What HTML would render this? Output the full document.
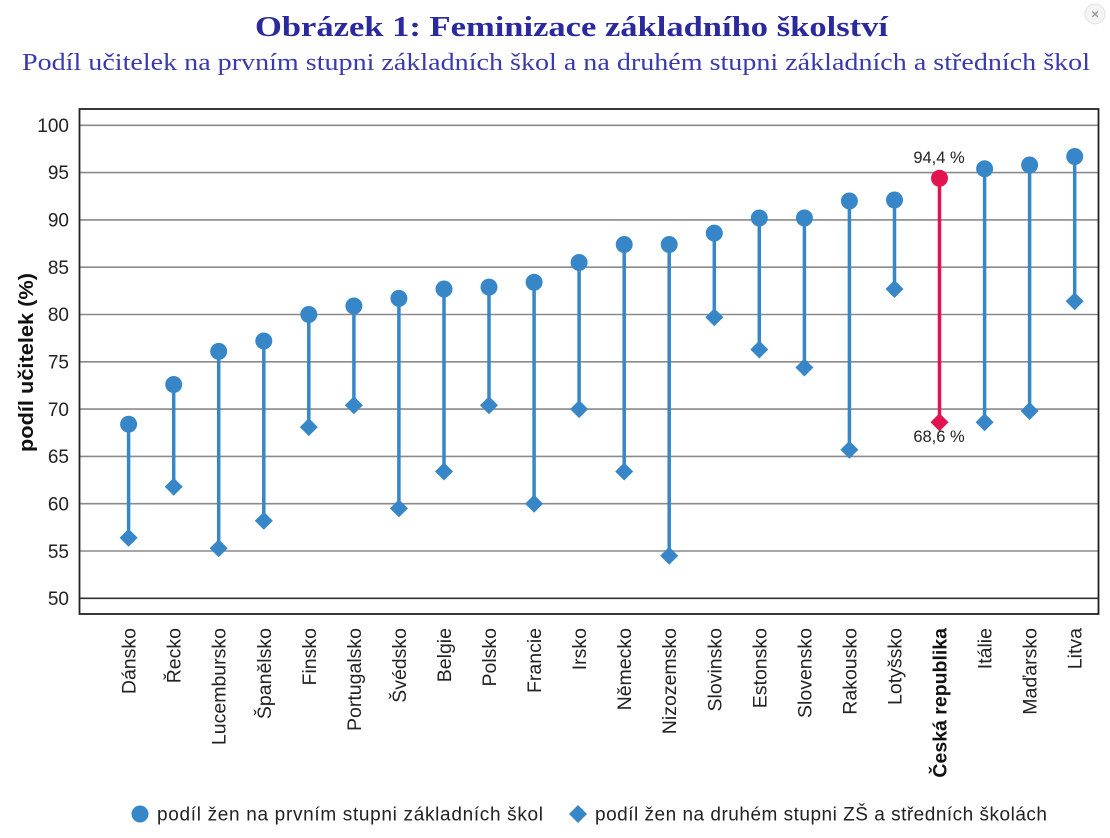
<!DOCTYPE html>
<html><head><meta charset="utf-8"><style>
html,body{margin:0;padding:0;background:#fff;}
svg{display:block;}
</style></head><body>
<svg width="1110" height="838" viewBox="0 0 1110 838" xmlns="http://www.w3.org/2000/svg">
<rect width="1110" height="838" fill="#fff"/>
<!-- close button -->
<circle cx="1095" cy="14" r="10" fill="#f4f4f4" stroke="#e2e2e2" stroke-width="1"/>
<text x="1095" y="18.5" font-family="Liberation Sans, sans-serif" font-size="13" font-weight="bold" fill="#9a9a9a" text-anchor="middle">×</text>
<!-- titles -->
<text x="255" y="36" textLength="633" lengthAdjust="spacingAndGlyphs" font-family="Liberation Serif, serif" font-weight="bold" font-size="29" fill="#2a2a9c">Obrázek 1: Feminizace základního školství</text>
<text x="22" y="70" textLength="1068" lengthAdjust="spacingAndGlyphs" font-family="Liberation Serif, serif" font-size="24" fill="#3a3aaa">Podíl učitelek na prvním stupni základních škol a na druhém stupni základních a středních škol</text>
<!-- gridlines -->
<g stroke="#8a8a8a" stroke-width="1.6">
<line x1="80" x2="1098" y1="125.3" y2="125.3"/>
<line x1="80" x2="1098" y1="172.6" y2="172.6"/>
<line x1="80" x2="1098" y1="219.9" y2="219.9"/>
<line x1="80" x2="1098" y1="267.2" y2="267.2"/>
<line x1="80" x2="1098" y1="314.5" y2="314.5"/>
<line x1="80" x2="1098" y1="361.8" y2="361.8"/>
<line x1="80" x2="1098" y1="409.1" y2="409.1"/>
<line x1="80" x2="1098" y1="456.4" y2="456.4"/>
<line x1="80" x2="1098" y1="503.7" y2="503.7"/>
<line x1="80" x2="1098" y1="551.0" y2="551.0"/>
</g>
<line x1="80" x2="1098" y1="598.3" y2="598.3" stroke="#333" stroke-width="1.6"/>
<!-- frame -->
<rect x="79.5" y="109" width="1019" height="505" fill="none" stroke="#222" stroke-width="1.8"/>
<!-- y tick labels -->
<g font-family="Liberation Sans, sans-serif" font-size="19" fill="#222" text-anchor="end">
<text x="69" y="132">100</text>
<text x="69" y="179">95</text>
<text x="69" y="226.5">90</text>
<text x="69" y="274">85</text>
<text x="69" y="321">80</text>
<text x="69" y="368.5">75</text>
<text x="69" y="416">70</text>
<text x="69" y="463">65</text>
<text x="69" y="510.5">60</text>
<text x="69" y="558">55</text>
<text x="69" y="605">50</text>
</g>
<text transform="translate(33,452) rotate(-90)" textLength="179" lengthAdjust="spacingAndGlyphs" font-family="Liberation Sans, sans-serif" font-size="20" font-weight="bold" fill="#111">podíl učitelek (%)</text>
<!-- lines -->
<g stroke="#3787c8" stroke-width="3.5">
<line x1="128.6" x2="128.6" y1="424.2" y2="537.8"/>
<line x1="173.7" x2="173.7" y1="384.5" y2="486.7"/>
<line x1="218.7" x2="218.7" y1="351.4" y2="548.2"/>
<line x1="263.8" x2="263.8" y1="341.0" y2="520.7"/>
<line x1="308.8" x2="308.8" y1="314.5" y2="427.1"/>
<line x1="353.9" x2="353.9" y1="306.0" y2="405.3"/>
<line x1="398.9" x2="398.9" y1="298.4" y2="508.4"/>
<line x1="444.0" x2="444.0" y1="289.0" y2="471.5"/>
<line x1="489.0" x2="489.0" y1="287.1" y2="405.3"/>
<line x1="534.1" x2="534.1" y1="282.3" y2="503.7"/>
<line x1="579.1" x2="579.1" y1="262.5" y2="409.1"/>
<line x1="624.2" x2="624.2" y1="244.5" y2="471.5"/>
<line x1="669.2" x2="669.2" y1="244.5" y2="555.7"/>
<line x1="714.3" x2="714.3" y1="233.1" y2="317.3"/>
<line x1="759.3" x2="759.3" y1="218.0" y2="349.5"/>
<line x1="804.4" x2="804.4" y1="218.0" y2="367.5"/>
<line x1="849.4" x2="849.4" y1="201.0" y2="449.8"/>
<line x1="894.5" x2="894.5" y1="200.0" y2="289.0"/>
<line x1="984.6" x2="984.6" y1="168.8" y2="422.3"/>
<line x1="1029.6" x2="1029.6" y1="165.0" y2="411.0"/>
<line x1="1074.7" x2="1074.7" y1="156.5" y2="301.3"/>
</g>
<line x1="939.5" x2="939.5" y1="178.3" y2="422.3" stroke="#e31351" stroke-width="3.5"/>
<!-- circles -->
<g fill="#3787c8">
<circle cx="128.6" cy="424.2" r="8.5"/>
<circle cx="173.7" cy="384.5" r="8.5"/>
<circle cx="218.7" cy="351.4" r="8.5"/>
<circle cx="263.8" cy="341.0" r="8.5"/>
<circle cx="308.8" cy="314.5" r="8.5"/>
<circle cx="353.9" cy="306.0" r="8.5"/>
<circle cx="398.9" cy="298.4" r="8.5"/>
<circle cx="444.0" cy="289.0" r="8.5"/>
<circle cx="489.0" cy="287.1" r="8.5"/>
<circle cx="534.1" cy="282.3" r="8.5"/>
<circle cx="579.1" cy="262.5" r="8.5"/>
<circle cx="624.2" cy="244.5" r="8.5"/>
<circle cx="669.2" cy="244.5" r="8.5"/>
<circle cx="714.3" cy="233.1" r="8.5"/>
<circle cx="759.3" cy="218.0" r="8.5"/>
<circle cx="804.4" cy="218.0" r="8.5"/>
<circle cx="849.4" cy="201.0" r="8.5"/>
<circle cx="894.5" cy="200.0" r="8.5"/>
<circle cx="984.6" cy="168.8" r="8.5"/>
<circle cx="1029.6" cy="165.0" r="8.5"/>
<circle cx="1074.7" cy="156.5" r="8.5"/>
</g>
<circle cx="939.5" cy="178.3" r="8.5" fill="#e31351"/>
<!-- diamonds -->
<g fill="#3787c8">
<path d="M128.6 528.8 L137.6 537.8 L128.6 546.8 L119.6 537.8 Z"/>
<path d="M173.7 477.7 L182.7 486.7 L173.7 495.7 L164.7 486.7 Z"/>
<path d="M218.7 539.2 L227.7 548.2 L218.7 557.2 L209.7 548.2 Z"/>
<path d="M263.8 511.7 L272.8 520.7 L263.8 529.7 L254.8 520.7 Z"/>
<path d="M308.8 418.1 L317.8 427.1 L308.8 436.1 L299.8 427.1 Z"/>
<path d="M353.9 396.3 L362.9 405.3 L353.9 414.3 L344.9 405.3 Z"/>
<path d="M398.9 499.4 L407.9 508.4 L398.9 517.4 L389.9 508.4 Z"/>
<path d="M444.0 462.5 L453.0 471.5 L444.0 480.5 L435.0 471.5 Z"/>
<path d="M489.0 396.3 L498.0 405.3 L489.0 414.3 L480.0 405.3 Z"/>
<path d="M534.1 494.7 L543.1 503.7 L534.1 512.7 L525.1 503.7 Z"/>
<path d="M579.1 400.1 L588.1 409.1 L579.1 418.1 L570.1 409.1 Z"/>
<path d="M624.2 462.5 L633.2 471.5 L624.2 480.5 L615.2 471.5 Z"/>
<path d="M669.2 546.7 L678.2 555.7 L669.2 564.7 L660.2 555.7 Z"/>
<path d="M714.3 308.3 L723.3 317.3 L714.3 326.3 L705.3 317.3 Z"/>
<path d="M759.3 340.5 L768.3 349.5 L759.3 358.5 L750.3 349.5 Z"/>
<path d="M804.4 358.5 L813.4 367.5 L804.4 376.5 L795.4 367.5 Z"/>
<path d="M849.4 440.8 L858.4 449.8 L849.4 458.8 L840.4 449.8 Z"/>
<path d="M894.5 280.0 L903.5 289.0 L894.5 298.0 L885.5 289.0 Z"/>
<path d="M984.6 413.3 L993.6 422.3 L984.6 431.3 L975.6 422.3 Z"/>
<path d="M1029.6 402.0 L1038.6 411.0 L1029.6 420.0 L1020.6 411.0 Z"/>
<path d="M1074.7 292.3 L1083.7 301.3 L1074.7 310.3 L1065.7 301.3 Z"/>
</g>
<path d="M939.5 413.3 L948.5 422.3 L939.5 431.3 L930.5 422.3 Z" fill="#e31351"/>
<!-- value labels -->
<g font-family="Liberation Sans, sans-serif" font-size="16.5" fill="#222" text-anchor="middle">
<text x="939" y="163">94,4 %</text>
<text x="939" y="442">68,6 %</text>
</g>
<!-- x labels -->
<g font-family="Liberation Sans, sans-serif" font-size="19.5" fill="#222" text-anchor="end">
<text transform="translate(135.6,628) rotate(-90)">Dánsko</text>
<text transform="translate(180.7,628) rotate(-90)">Řecko</text>
<text transform="translate(225.7,628) rotate(-90)">Lucembursko</text>
<text transform="translate(270.8,628) rotate(-90)">Španělsko</text>
<text transform="translate(315.8,628) rotate(-90)">Finsko</text>
<text transform="translate(360.9,628) rotate(-90)">Portugalsko</text>
<text transform="translate(405.9,628) rotate(-90)">Švédsko</text>
<text transform="translate(451.0,628) rotate(-90)">Belgie</text>
<text transform="translate(496.0,628) rotate(-90)">Polsko</text>
<text transform="translate(541.1,628) rotate(-90)">Francie</text>
<text transform="translate(586.1,628) rotate(-90)">Irsko</text>
<text transform="translate(631.2,628) rotate(-90)">Německo</text>
<text transform="translate(676.2,628) rotate(-90)">Nizozemsko</text>
<text transform="translate(721.3,628) rotate(-90)">Slovinsko</text>
<text transform="translate(766.3,628) rotate(-90)">Estonsko</text>
<text transform="translate(811.4,628) rotate(-90)">Slovensko</text>
<text transform="translate(856.4,628) rotate(-90)">Rakousko</text>
<text transform="translate(901.5,628) rotate(-90)">Lotyšsko</text>
<text transform="translate(946.5,628) rotate(-90)" font-weight="bold" fill="#111">Česká republika</text>
<text transform="translate(991.6,628) rotate(-90)">Itálie</text>
<text transform="translate(1036.6,628) rotate(-90)">Maďarsko</text>
<text transform="translate(1081.7,628) rotate(-90)">Litva</text>
</g>
<!-- legend -->
<circle cx="140" cy="814" r="8.5" fill="#3787c8"/>
<text x="157" y="820.5" textLength="386" lengthAdjust="spacing" font-family="Liberation Sans, sans-serif" font-size="19" fill="#222">podíl žen na prvním stupni základních škol</text>
<path d="M578 805 L587 814 L578 823 L569 814 Z" fill="#3787c8"/>
<text x="595" y="820.5" textLength="452" lengthAdjust="spacing" font-family="Liberation Sans, sans-serif" font-size="19" fill="#222">podíl žen na druhém stupni ZŠ a středních školách</text>
</svg>
</body></html>
